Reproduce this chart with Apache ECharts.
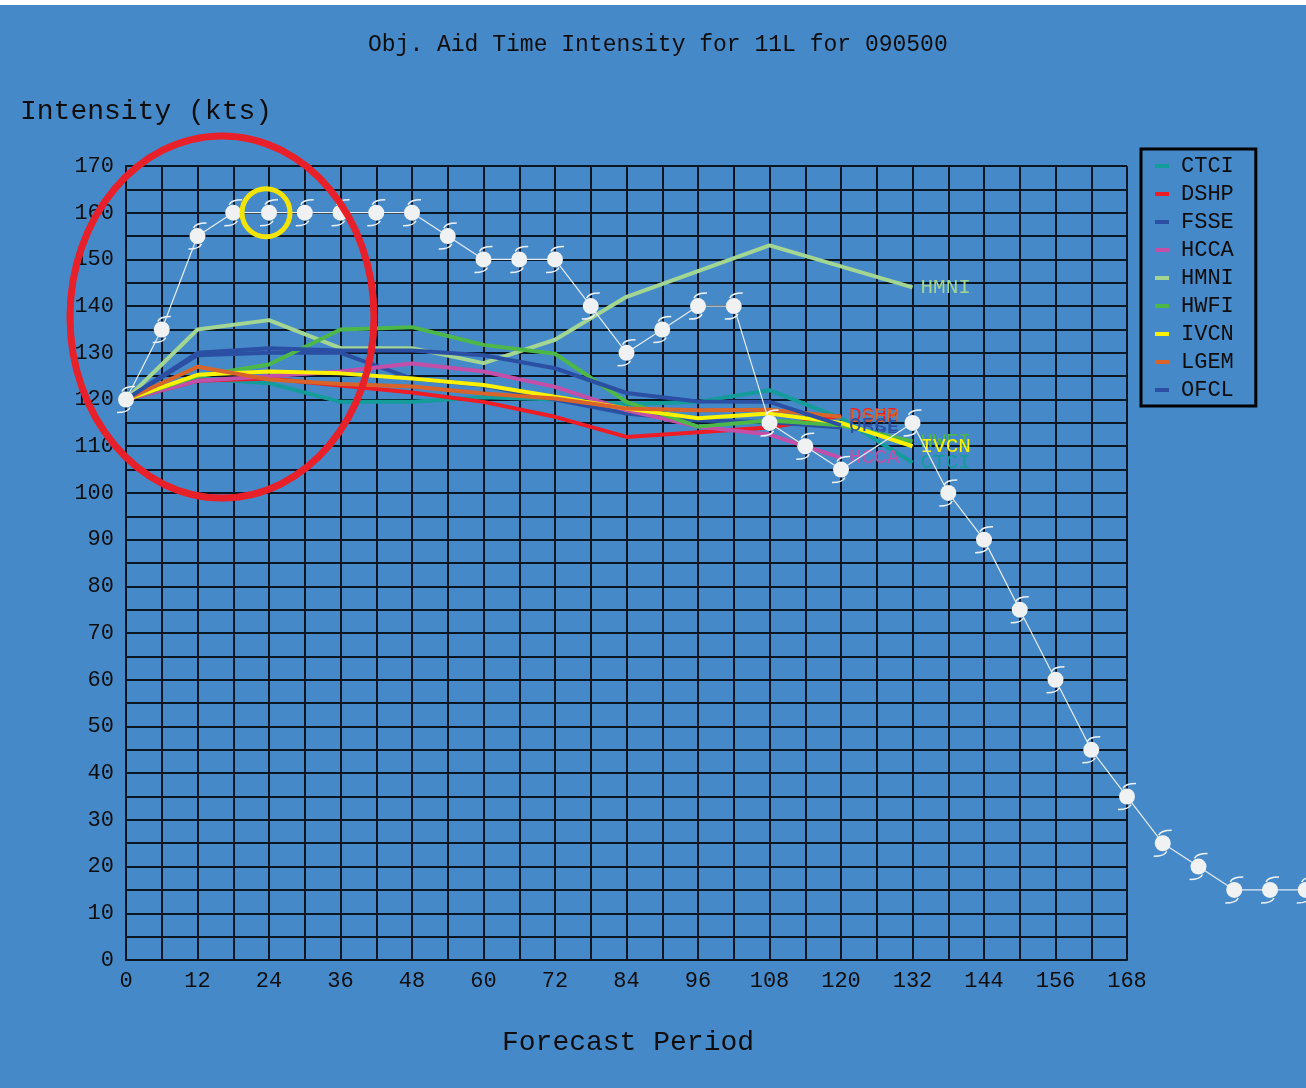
<!DOCTYPE html>
<html>
<head>
<meta charset="utf-8">
<style>
  html, body { margin: 0; padding: 0; background: #4689c8; }
  #chart { width: 1306px; height: 1088px; }
</style>
<script src="https://cdn.jsdelivr.net/npm/echarts@6/dist/echarts.min.js"></script>
</head>
<body>
<div id="chart"></div>
<script>
// Forecast hours for the objective aids (every 12 h)
const hours = [0, 12, 24, 36, 48, 60, 72, 84, 96, 108, 120, 132];

// Intensity forecasts (kts) per aid, aligned with `hours`
const ctci = [120, 124.5, 123.5, 119.5, 119.5, 120.5, 120, 119, 119.5, 122, 116, 106.5];
const dshp = [120, 124, 124.5, 123, 121.5, 119.5, 116.3, 112, 113, 114, 116.5, null];
const fsse = [120, 129.5, 130, 130, 124.5, 123, 120, 117, 115.5, 115.2, 114, null];
const hcca = [120, 124, 125, 126, 127.7, 126, 122.7, 117.7, 114.2, 112.5, 107.5, null];
const hmni = [120, 135, 137, 131, 131, 127.8, 132.8, 142, 147.5, 153, 148.5, 144];
const hwfi = [120, 125, 127.5, 135, 135.5, 131.7, 129.8, 119.5, 114.2, 115.5, 114.5, 111];
const ivcn = [120, 125.3, 126, 125.6, 124.5, 123.1, 120.6, 118.1, 116, 117, 115, 110];
const lgem = [120, 127, 124.3, 123.3, 122.8, 121.3, 120.2, 118.1, 117.7, 117.8, 116.3, null];
const ofcl = [120, 130, 131, 130.5, 130.5, 129.5, 126.7, 121.4, 119.6, 119.5, 114.5, null];

// Track intensity with hurricane markers (every 6 h)
const trackHours = [0, 6, 12, 18, 24, 30, 36, 42, 48, 54, 60, 66, 72, 78, 84, 90, 96, 102, 108, 114, 120, 132, 138, 144, 150, 156, 162, 168, 174, 180, 186, 192, 198];
const trackValues = [120, 135, 155, 160, 160, 160, 160, 160, 160, 155, 150, 150, 150, 140, 130, 135, 140, 140, 115, 110, 105, 115, 100, 90, 75, 60, 45, 35, 25, 20, 15, 15, 15];

// Axis ticks
const xTicks = [0, 12, 24, 36, 48, 60, 72, 84, 96, 108, 120, 132, 144, 156, 168];
const yTicks = [0, 10, 20, 30, 40, 50, 60, 70, 80, 90, 100, 110, 120, 130, 140, 150, 160, 170];

const aidNames = ['CTCI', 'DSHP', 'FSSE', 'HCCA', 'HMNI', 'HWFI', 'IVCN', 'LGEM', 'OFCL'];
const aidValues = [ctci, dshp, fsse, hcca, hmni, hwfi, ivcn, lgem, ofcl];
const aidColors = ['#139c99', '#ee1c25', '#2b4fa3', '#c44fa8', '#a3d692', '#4db848', '#fff200', '#d9642a', '#2b4fa3'];

const FONT = "'Courier New', 'Liberation Mono', monospace";
const INK = '#0d0d0d';
const GRID = '#0b1623';

function pairs(xs, ys) {
  const out = [];
  xs.forEach((x, i) => { if (ys[i] != null) out.push([x, ys[i]]); });
  return out;
}

// Each track item also carries the previous point, so a segment can be drawn back to it
const trackSegments = trackHours.map((h, i) => {
  const j = Math.max(0, i - 1);
  return [h, trackValues[i], trackHours[j], trackValues[j]];
});

const aidSeries = aidNames.map((name, i) => ({
  name: name,
  type: 'line',
  data: pairs(hours, aidValues[i]),
  color: aidColors[i],
  showSymbol: false,
  symbol: 'none',
  lineStyle: { width: 4, color: aidColors[i] },
  itemStyle: { color: aidColors[i] },
  endLabel: {
    show: true,
    formatter: name,
    color: aidColors[i],
    fontFamily: FONT,
    fontSize: 21,
    distance: 8
  },
  z: 3 + i * 0.01
}));

function renderSegment(params, api) {
  const a = api.coord([api.value(2), api.value(3)]);
  const b = api.coord([api.value(0), api.value(1)]);
  return {
    type: 'line',
    shape: { x1: a[0], y1: a[1], x2: b[0], y2: b[1] },
    style: { stroke: '#e6edf4', lineWidth: 1.2 }
  };
}

// Hurricane glyph: filled disk with two curled arms
function renderStorm(params, api) {
  const p = api.coord([api.value(0), api.value(1)]);
  const stroke = { stroke: '#eef2f6', lineWidth: 1.5, fill: null };
  return {
    type: 'group',
    x: p[0],
    y: p[1],
    children: [
      { type: 'circle', shape: { cx: 0, cy: 0, r: 8 }, style: { fill: '#f0f1f2' } },
      { type: 'bezierCurve', shape: { x1: -4, y1: -8, cpx1: -2, cpy1: -13, x2: 9, y2: -13 }, style: stroke },
      { type: 'bezierCurve', shape: { x1: 4, y1: 8, cpx1: 2, cpy1: 13, x2: -9, y2: 13 }, style: stroke }
    ]
  };
}

const chart = echarts.init(document.getElementById('chart'), null, { renderer: 'canvas' });

const option = {
  animation: false,
  backgroundColor: '#4689c8',
  title: [
    { text: 'Obj. Aid Time Intensity for 11L for 090500', left: 363, top: 28,
      textStyle: { fontFamily: FONT, fontSize: 23, fontWeight: 'normal', color: INK } },
    { text: 'Intensity (kts)', left: 15, top: 93,
      textStyle: { fontFamily: FONT, fontSize: 28, fontWeight: 'normal', color: INK } },
    { text: 'Forecast Period', left: 497, top: 1024,
      textStyle: { fontFamily: FONT, fontSize: 28, fontWeight: 'normal', color: INK } }
  ],
  legend: {
    data: aidNames,
    orient: 'vertical',
    left: 1141,
    top: 149,
    padding: [6, 22, 5, 14],
    itemGap: 6,
    itemWidth: 14,
    itemHeight: 4,
    icon: 'rect',
    borderColor: '#000',
    borderWidth: 3,
    selectedMode: false,
    textStyle: { fontFamily: FONT, fontSize: 22, lineHeight: 22, color: INK, padding: [0, 0, 0, 7] }
  },
  grid: { left: 126, right: 179, top: 166, bottom: 128, containLabel: false },
  xAxis: {
    type: 'value',
    min: 0,
    max: 168,
    interval: 12,
    axisLine: { show: true, lineStyle: { color: GRID, width: 2 } },
    axisTick: { show: false },
    axisLabel: {
      margin: 10,
      fontFamily: FONT, fontSize: 22, color: INK,
      formatter: v => (xTicks.indexOf(v) >= 0 ? String(v) : '')
    },
    splitLine: { show: true, lineStyle: { color: GRID, width: 2 } },
    minorTick: { show: false, splitNumber: 2 },
    minorSplitLine: { show: true, lineStyle: { color: GRID, width: 2 } }
  },
  yAxis: {
    type: 'value',
    min: 0,
    max: 170,
    interval: 10,
    axisLine: { show: true, lineStyle: { color: GRID, width: 2 } },
    axisTick: { show: false },
    axisLabel: {
      margin: 12,
      fontFamily: FONT, fontSize: 22, color: INK,
      formatter: v => (yTicks.indexOf(v) >= 0 ? String(v) : '')
    },
    splitLine: { show: true, lineStyle: { color: GRID, width: 2 } },
    minorTick: { show: false, splitNumber: 2 },
    minorSplitLine: { show: true, lineStyle: { color: GRID, width: 2 } }
  },
  series: aidSeries.concat([
    {
      name: 'trackLine',
      type: 'custom',
      data: trackSegments,
      clip: false,
      renderItem: renderSegment,
      encode: { x: 0, y: 1 },
      z: 5
    },
    {
      name: 'trackMarks',
      type: 'custom',
      data: pairs(trackHours, trackValues),
      clip: false,
      renderItem: renderStorm,
      encode: { x: 0, y: 1 },
      z: 6
    }
  ])
};

chart.setOption(option);

// Highlight rings drawn over the chart
const peak = chart.convertToPixel({ gridIndex: 0 }, [24, 160]);
chart.setOption({
  graphic: [
    { id: 'topStrip', type: 'rect', left: 0, top: 0, shape: { width: 1306, height: 5 }, style: { fill: '#ffffff' }, z: 100 },
    { id: 'ringRed', type: 'ellipse', shape: { cx: 222, cy: 317, rx: 152, ry: 181 },
      style: { fill: null, stroke: '#e8202a', lineWidth: 7 }, z: 100 },
    { id: 'ringYellow', type: 'circle', shape: { cx: peak[0] - 3, cy: peak[1], r: 24 },
      style: { fill: null, stroke: '#f3e406', lineWidth: 5 }, z: 100 }
  ]
});
</script>
</body>
</html>
